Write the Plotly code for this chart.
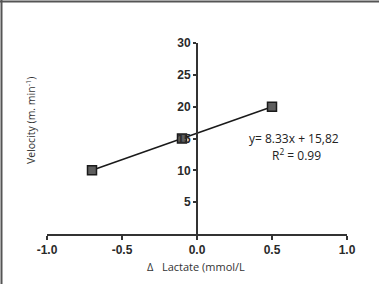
import plotly.graph_objects as go

delta_lactate = [-0.7, -0.1, 0.5]
velocity = [10, 15, 20]
x_ticks = [-1.0, -0.5, 0.0, 0.5, 1.0]
x_tick_labels = ["-1.0", "-0.5", "0.0", "0.5", "1.0"]
y_ticks = [5, 10, 15, 20, 25, 30]
y_tick_labels = ["5", "10", "15", "20", "25", "30"]
equation = "y= 8.33x + 15,82"
r2_text = "R<sup>2</sup> = 0.99"

W, H = 379, 284
L, R, T, B = 47, 32, 43, 50
pw, ph = W - L - R, H - T - B

def px(x):
    return (x - L) / pw

def py(y):
    return (H - B - y) / ph

fig = go.Figure()
fig.add_trace(go.Scatter(
    x=delta_lactate, y=velocity, mode="lines+markers",
    line=dict(color="#1a1a1a", width=1.5),
    marker=dict(symbol="square", size=9, color="#5e5e5e",
                line=dict(color="#1a1a1a", width=1.5)),
    showlegend=False, cliponaxis=False,
))

tf = dict(family="Liberation Sans, Arial", size=12, color="#2a2a2a")

fig.update_layout(
    width=W, height=H,
    margin=dict(l=L, r=R, t=T, b=B),
    paper_bgcolor="white", plot_bgcolor="white",
    xaxis=dict(range=[-1, 1], tickvals=x_ticks,
               ticktext=["<b>%s</b>" % t for t in x_tick_labels],
               showgrid=False, zeroline=False, showline=True,
               linecolor="#333333", linewidth=2, ticks="outside",
               ticklen=4, tickwidth=2, tickcolor="#333333", tickfont=tf),
    yaxis=dict(range=[0, 30], tickvals=y_ticks,
               ticktext=["<b>%s</b>" % t for t in y_tick_labels],
               anchor="free", position=0.5,
               showgrid=False, zeroline=False, showline=True,
               linecolor="#333333", linewidth=2, ticks="outside",
               ticklen=3, tickwidth=2, tickcolor="#333333", tickfont=tf),
    annotations=[
        dict(text="Velocity (m. min<sup>-1</sup>)", textangle=-90,
             x=px(30), y=py(121), xref="paper", yref="paper",
             xanchor="center", yanchor="middle",
             showarrow=False, font=dict(family="Open Sans", size=10.5, color="#333333")),
        dict(text="\u0394&nbsp;&nbsp;&nbsp;Lactate (mmol/L", x=px(196), y=py(266),
             xref="paper", yref="paper", xanchor="center", yanchor="middle",
             showarrow=False, font=dict(family="Open Sans", size=11, color="#333333")),
        dict(text=equation, x=px(294), y=py(138), xref="paper", yref="paper",
             xanchor="center", yanchor="middle",
             showarrow=False, font=dict(family="Open Sans", size=12, color="#222222")),
        dict(text=r2_text, x=px(296), y=py(155), xref="paper", yref="paper",
             xanchor="center", yanchor="middle",
             showarrow=False, font=dict(family="Open Sans", size=12, color="#222222")),
    ],
    shapes=[
        dict(type="line", xref="paper", yref="paper",
             x0=px(0), x1=px(379), y0=py(1.5), y1=py(1.5),
             line=dict(color="#555555", width=2)),
        dict(type="line", xref="paper", yref="paper",
             x0=px(1.5), x1=px(1.5), y0=py(0), y1=py(284),
             line=dict(color="#555555", width=2)),
    ],
)

fig.write_html("out.html")
